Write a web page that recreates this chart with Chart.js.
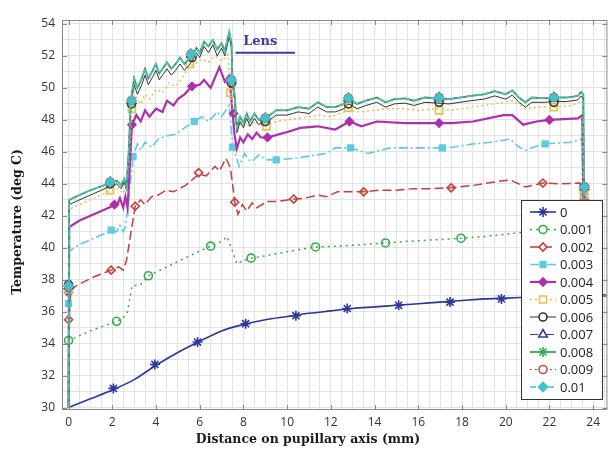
<!DOCTYPE html>
<html>
<head>
<meta charset="utf-8">
<script src="https://cdn.jsdelivr.net/npm/chart.js@4.4.0/dist/chart.umd.min.js"></script>
<style>
  html, body { margin: 0; padding: 0; background: #fff; }
  #wrap { width: 614px; height: 449px; position: relative; }
</style>
</head>
<body>
<div id="wrap"><canvas id="chart"></canvas></div>
<script>
// legend labels (one per curve)
const seriesLabels = ['0', '0.001', '0.002', '0.003', '0.004', '0.005', '0.006', '0.007', '0.008', '0.009', '0.01'];

// curves, [distance mm, temperature deg C]
const line0 = [[0,30],[1,30.55],[2,31.1],[3,31.75],[4,32.65],[5,33.45],[6,34.15],[7,34.8],[8,35.2],[9,35.5],[10,35.7],[11,35.9],[12,36.05],[13,36.2],[14,36.3],[15,36.4],[16,36.5],[17,36.6],[18,36.7],[19,36.8],[20,36.85],[22,36.95],[24.6,37.05]];
const marks0 = [[2.05,31.2],[3.95,32.7],[5.9,34.1],[8.1,35.25],[10.4,35.75],[12.75,36.2],[15.1,36.4],[17.45,36.6],[19.8,36.8]];

const line001 = [[0,30],[0.03,34.2],[0.5,34.5],[1.0,34.8],[1.6,35.1],[2.2,35.4],[2.5,35.6],[2.7,36.0],[2.9,37.6],[3.3,37.7],[3.65,38.25],[4.2,38.6],[4.8,39.0],[5.4,39.4],[6.0,39.8],[6.5,40.1],[7.0,40.4],[7.25,40.7],[7.5,39.8],[7.7,39.0],[8.0,39.2],[8.35,39.35],[9.0,39.5],[9.8,39.7],[10.6,39.9],[11.3,40.05],[12.3,40.1],[13.5,40.2],[14.5,40.3],[15.5,40.4],[16.8,40.5],[18.0,40.6],[19.0,40.7],[20.0,40.85],[21.0,41.0],[22.5,41.1],[23.5,41.2],[23.6,37.0],[24.6,37.0]];
const marks001 = [[0,34.2],[2.2,35.4],[3.65,38.25],[6.5,40.1],[8.35,39.35],[11.3,40.05],[14.5,40.3],[17.95,40.6]];

const line002 = [[0,30],[0.03,35.5],[0.1,37.4],[0.6,37.8],[1.2,38.2],[1.95,38.6],[2.3,38.8],[2.5,38.6],[2.65,39.2],[2.8,40.5],[3.05,42.6],[3.3,43.0],[3.5,42.7],[3.8,43.2],[4.1,43.3],[4.45,43.6],[4.8,43.5],[5.35,43.9],[5.95,44.6],[6.3,44.5],[6.7,45.1],[6.9,44.8],[7.2,45.6],[7.4,45.0],[7.55,43.5],[7.6,42.85],[7.75,42.1],[7.95,42.7],[8.15,42.3],[8.4,42.8],[8.6,42.5],[9.1,42.9],[9.6,42.9],[10.3,43.05],[10.8,43.1],[11.4,43.3],[11.8,43.2],[12.3,43.5],[12.8,43.5],[13.5,43.5],[14.2,43.6],[15,43.6],[15.8,43.7],[16.5,43.7],[17.5,43.75],[18.5,43.9],[19.4,44.1],[20.2,44.25],[20.9,43.8],[21.7,44.05],[22.5,44.0],[23.4,44.05],[23.6,37.0],[24.6,37.0]];
const marks002 = [[0,35.5],[1.95,38.6],[3.05,42.6],[5.95,44.7],[7.6,42.85],[10.3,43.05],[13.5,43.5],[17.5,43.75],[21.7,44.05]];

const line003 = [[0,30],[0.03,39.8],[0.5,40.2],[1.0,40.5],[1.5,40.8],[1.95,41.1],[2.2,41.0],[2.35,41.4],[2.5,41.0],[2.6,41.3],[2.75,43.0],[2.95,45.7],[3.15,46.5],[3.3,46.1],[3.5,46.6],[3.8,46.3],[4.1,46.8],[4.5,47.0],[4.9,47.1],[5.3,47.5],[5.75,47.9],[6.1,48.2],[6.4,47.9],[6.8,48.5],[7.0,48.2],[7.35,48.9],[7.5,46.4],[7.8,45.1],[8.05,45.9],[8.25,45.5],[8.4,45.4],[8.7,45.8],[9.1,45.5],[9.5,45.5],[10.4,45.6],[11.3,45.8],[11.8,45.9],[12.2,46.25],[12.9,46.25],[13.7,45.9],[14.7,46.25],[15.8,46.25],[17.1,46.25],[17.6,46.3],[18.5,46.5],[19.3,46.6],[20.2,46.8],[20.6,46.3],[20.9,46.1],[21.5,46.4],[21.8,46.5],[23.0,46.6],[23.5,46.8],[23.6,37.0],[24.6,37.0]];
const marks003 = [[0,36.5],[1.95,41.1],[2.95,45.7],[5.75,47.9],[7.5,46.3],[9.5,45.5],[12.9,46.25],[17.1,46.25],[21.8,46.5],[23.6,43.5]];

const line004 = [[0,30],[0.03,41.3],[0.5,41.7],[1.0,42.0],[1.5,42.3],[2.0,42.6],[2.2,42.6],[2.35,43.1],[2.5,42.5],[2.6,43.2],[2.7,42.5],[2.8,45.0],[2.9,47.7],[3.1,48.3],[3.3,47.9],[3.5,48.6],[3.7,48.2],[4.0,48.7],[4.3,48.5],[4.5,49.2],[4.8,48.9],[5.0,49.3],[5.3,49.6],[5.65,50.1],[6.0,50.2],[6.2,50.5],[6.5,50.0],[6.9,51.3],[7.15,50.4],[7.35,50.8],[7.5,48.5],[7.6,47.0],[7.7,46.2],[7.85,46.9],[8.0,46.6],[8.2,47.1],[8.4,46.8],[8.6,47.2],[8.8,46.9],[9.1,46.9],[9.9,47.2],[10.6,47.5],[11.4,47.6],[12.2,47.4],[12.85,47.9],[13.4,47.6],[14.1,47.9],[15.4,47.8],[16.95,47.8],[17.5,47.8],[18.5,47.9],[19.9,48.3],[20.3,48.3],[20.8,47.7],[21.4,47.9],[22.0,48.0],[23.3,48.1],[23.5,48.3],[23.6,37.0],[24.6,37.0]];
const marks004 = [[0,37.2],[2.1,42.7],[2.9,47.7],[5.65,50.1],[7.55,48.4],[9.1,46.9],[12.85,47.9],[16.95,47.8],[22.0,48.0],[23.6,43.0]];

const line005 = [[0,30],[0.03,42.4],[0.5,42.7],[1.0,43.0],[1.5,43.3],[1.9,43.55],[2.3,43.7],[2.5,43.4],[2.6,43.7],[2.75,45.0],[2.9,48.6],[3.1,49.4],[3.3,49.0],[3.5,49.6],[3.7,49.3],[4.0,49.9],[4.3,49.7],[4.6,50.3],[4.9,50.1],[5.2,50.6],[5.55,51.4],[5.8,51.5],[6.1,51.8],[6.4,51.6],[6.7,52.0],[7.0,51.7],[7.3,52.1],[7.4,49.8],[7.55,48.6],[7.7,47.3],[7.9,47.8],[8.2,47.6],[8.5,47.9],[9.0,47.6],[9.5,47.9],[10,48.0],[10.5,48.1],[11,48.2],[11.5,48.3],[12,48.2],[12.8,48.6],[13.3,48.5],[14,48.6],[14.5,48.7],[15.4,48.7],[16,48.6],[16.95,48.7],[17.5,48.6],[18.5,48.8],[19.5,49.0],[20.3,49.2],[20.9,48.7],[21.5,48.8],[22.2,48.8],[23,48.9],[23.5,49.2],[23.6,37.0],[24.6,37.0]];
const marks005 = [[0,37.4],[1.9,43.6],[2.9,48.7],[5.55,51.5],[7.4,49.7],[9.05,47.6],[12.8,48.75],[16.95,48.6],[22.2,48.8],[23.6,43.3]];

const line006 = [[0,30],[0.03,42.7],[0.5,43.0],[1.0,43.3],[1.5,43.6],[1.9,43.85],[2.2,44.0],[2.4,43.7],[2.55,44.1],[2.65,43.6],[2.75,45.5],[2.85,48.9],[3.0,50.2],[3.15,49.6],[3.35,50.2],[3.5,50.8],[3.65,50.2],[3.85,50.7],[4.0,51.1],[4.15,50.5],[4.35,50.9],[4.5,51.2],[4.7,50.8],[4.9,51.1],[5.1,51.5],[5.3,51.1],[5.5,51.4],[5.7,51.8],[5.85,52.2],[6.0,51.9],[6.2,52.6],[6.4,52.2],[6.6,52.7],[6.8,52.0],[7.0,52.5],[7.15,52.0],[7.35,53.2],[7.45,52.5],[7.5,50.3],[7.6,49.2],[7.7,47.2],[7.85,47.9],[8.0,47.5],[8.15,48.1],[8.3,47.6],[8.5,48.1],[8.7,47.7],[8.9,47.9],[9.2,48.0],[9.5,48.3],[10,48.3],[10.5,48.5],[11,48.4],[11.4,48.8],[11.8,48.5],[12.2,48.5],[12.6,48.7],[12.8,49.0],[13.2,48.7],[13.6,48.9],[14.1,49.1],[14.5,48.8],[14.9,49.0],[15.4,49.05],[15.8,48.9],[16.3,49.1],[16.9,49.05],[17.4,49.0],[17.9,49.1],[18.4,49.2],[19.0,49.3],[19.5,49.5],[20.0,49.3],[20.3,49.55],[20.6,49.1],[20.9,48.8],[21.2,49.1],[21.8,49.1],[22.2,49.15],[22.8,49.15],[23.3,49.25],[23.45,49.5],[23.55,49.3],[23.6,37.0],[24.6,37.0]];
const marks006 = [[0,37.7],[1.9,44.0],[2.88,49.0],[5.65,51.9],[7.45,50.3],[9.0,47.9],[12.8,49.0],[16.95,49.1],[22.2,49.1],[23.6,43.8]];

// 0.007 to 0.01 lie on top of each other in the picture
const lineTop = [[0,30],[0.03,43.0],[0.5,43.3],[1.0,43.6],[1.5,43.85],[1.9,44.05],[2.2,44.2],[2.4,43.9],[2.55,44.3],[2.65,43.8],[2.75,46.0],[2.85,49.2],[3.0,50.6],[3.15,50.0],[3.35,50.6],[3.5,51.2],[3.65,50.6],[3.85,51.1],[4.0,51.5],[4.15,50.9],[4.35,51.3],[4.5,51.6],[4.7,51.2],[4.9,51.5],[5.1,51.9],[5.3,51.5],[5.5,51.8],[5.7,52.1],[5.85,52.5],[6.0,52.2],[6.2,52.9],[6.4,52.6],[6.6,53.0],[6.8,52.4],[7.0,52.8],[7.15,52.3],[7.35,53.5],[7.45,52.8],[7.5,50.6],[7.6,49.5],[7.7,47.5],[7.85,48.2],[8.0,47.8],[8.15,48.4],[8.3,47.9],[8.5,48.4],[8.7,48.0],[8.9,48.2],[9.2,48.3],[9.5,48.6],[10,48.6],[10.5,48.8],[11,48.7],[11.4,49.1],[11.8,48.8],[12.2,48.8],[12.6,49.0],[12.8,49.3],[13.2,49.0],[13.6,49.2],[14.1,49.4],[14.5,49.1],[14.9,49.3],[15.4,49.35],[15.8,49.2],[16.3,49.4],[16.9,49.35],[17.4,49.3],[17.9,49.4],[18.4,49.5],[19.0,49.6],[19.5,49.8],[20.0,49.6],[20.3,49.85],[20.6,49.4],[20.9,49.1],[21.2,49.4],[21.8,49.35],[22.2,49.4],[22.8,49.4],[23.3,49.5],[23.45,49.75],[23.55,49.6],[23.6,37.0],[24.6,37.0]];
const marksTop = [[0,37.6],[1.9,44.1],[2.88,49.2],[5.6,52.1],[7.45,50.5],[9.0,48.1],[12.8,49.35],[16.95,49.4],[22.2,49.4],[23.6,43.8]];

// "Lens" marker line
const lensLine = [[7.64,52.2],[10.36,52.2]];
const lensLabel = 'Lens';
const lensLabelAt = [8.77, 52.9];

const lines = [line0, line001, line002, line003, line004, line005, line006, lineTop, lineTop, lineTop, lineTop];
const marks = [marks0, marks001, marks002, marks003, marks004, marks005, marks006, marksTop, marksTop, marksTop, marksTop];

// styles per curve
const styles = [
  { color: '#2b379b', width: 1.6, dash: [],           point: 'star',     r: 5,   fill: false },
  { color: '#34ad48', width: 1.5, dash: [2, 4],       point: 'circle',   r: 4,   fill: false },
  { color: '#c83c3c', width: 1.5, dash: [9, 4],       point: 'rectRot',  r: 4,   fill: false },
  { color: '#5fcbdc', width: 1.6, dash: [9, 3, 2, 3], point: 'rect',     r: 4,   fill: true  },
  { color: '#ad2fad', width: 2.2, dash: [],           point: 'rectRot',  r: 4,   fill: true  },
  { color: '#e4c24a', width: 1.5, dash: [2, 3],       point: 'rect',     r: 5,   fill: false },
  { color: '#333333', width: 1.0, dash: [],           point: 'circle',   r: 4,   fill: false },
  { color: '#2f3ea3', width: 1.0, dash: [8, 3, 2, 3], point: 'triangle', r: 5,   fill: false },
  { color: '#2fae4c', width: 1.8, dash: [],           point: 'star',     r: 5,   fill: false },
  { color: '#d04848', width: 1.2, dash: [2, 3],       point: 'circle',   r: 4,   fill: false },
  { color: '#3fc3cf', width: 1.6, dash: [6, 3],       point: 'rectRot',  r: 4.5, fill: true  }
];

const datasets = [];
lines.forEach((pts, i) => {
  const st = styles[i];
  datasets.push({
    label: seriesLabels[i],
    data: pts,
    borderColor: st.color,
    borderWidth: st.width,
    borderDash: st.dash,
    pointRadius: 0,
    tension: i === 0 ? 0.4 : 0,
    cubicInterpolationMode: i === 0 ? 'monotone' : 'default',
    order: -i * 2
  });
  datasets.push({
    label: seriesLabels[i] + ' markers',
    data: marks[i],
    showLine: false,
    pointStyle: st.point,
    pointRadius: st.r,
    pointBorderWidth: 1.6,
    pointBorderColor: st.color,
    pointBackgroundColor: st.fill ? st.color : 'rgba(255,255,255,0)',
    order: -i * 2 - 1
  });
});
datasets.push({
  label: 'lens',
  data: lensLine,
  borderColor: '#3b3ba3',
  borderWidth: 2,
  pointRadius: 0,
  order: -100
});

const tickFont = { family: '"Open Sans", sans-serif', size: 12 };

// frame, inner tick marks, lens label, axis titles and legend
const extras = {
  id: 'extras',
  afterDraw(chart) {
    const ctx = chart.ctx;
    const a = chart.chartArea;
    const xs = chart.scales.x, ys = chart.scales.y;
    ctx.save();

    ctx.strokeStyle = '#8a8a8a';
    ctx.lineWidth = 1;
    ctx.strokeRect(a.left + 0.5, a.top + 0.5, a.right - a.left - 1, a.bottom - a.top - 1);
    ctx.beginPath();
    for (let v = 0; v <= 24; v += 2) {
      const px = Math.round(xs.getPixelForValue(v)) + 0.5;
      ctx.moveTo(px, a.bottom); ctx.lineTo(px, a.bottom - 5);
      ctx.moveTo(px, a.top); ctx.lineTo(px, a.top + 5);
    }
    for (let v = 30; v <= 54; v += 2) {
      const py = Math.round(ys.getPixelForValue(v)) + 0.5;
      ctx.moveTo(a.left, py); ctx.lineTo(a.left + 5, py);
      ctx.moveTo(a.right, py); ctx.lineTo(a.right - 5, py);
    }
    ctx.stroke();

    ctx.fillStyle = '#3b3ba3';
    ctx.font = 'bold 13px "DejaVu Serif", serif';
    ctx.textAlign = 'center';
    ctx.textBaseline = 'middle';
    ctx.fillText(lensLabel, xs.getPixelForValue(lensLabelAt[0]), ys.getPixelForValue(lensLabelAt[1]));

    ctx.fillStyle = '#1a1a1a';
    ctx.font = 'bold 12.5px "DejaVu Serif", serif';
    ctx.fillText('Distance on pupillary axis (mm)', 308, 440);
    ctx.save();
    ctx.translate(18, 222);
    ctx.rotate(-Math.PI / 2);
    ctx.fillText('Temperature (deg C)', 0, 0);
    ctx.restore();

    // legend box
    const lx = 521, ly = 200, lw = 81, lh = 199;
    ctx.fillStyle = '#ffffff';
    ctx.fillRect(lx, ly, lw, lh);
    ctx.strokeStyle = '#333';
    ctx.lineWidth = 1;
    ctx.strokeRect(lx + 0.5, ly + 0.5, lw, lh);
    seriesLabels.forEach((lab, i) => {
      const st = styles[i];
      const y = ly + 12 + i * 17.5;
      ctx.strokeStyle = st.color;
      ctx.lineWidth = st.width;
      ctx.setLineDash(st.dash);
      ctx.beginPath();
      ctx.moveTo(lx + 9, y); ctx.lineTo(lx + 35, y);
      ctx.stroke();
      ctx.setLineDash([]);
      ctx.fillStyle = st.fill ? st.color : '#ffffff';
      ctx.lineWidth = 1.6;
      Chart.helpers.drawPoint(ctx, { pointStyle: st.point, radius: st.r, rotation: 0, borderWidth: 1.6 }, lx + 22, y);
      ctx.fillStyle = '#222';
      ctx.font = '13px "Open Sans", sans-serif';
      ctx.textAlign = 'left';
      ctx.fillText(lab, lx + 39, y + 1);
    });
    ctx.restore();
  }
};

new Chart(document.getElementById('chart'), {
  type: 'line',
  data: { datasets: datasets },
  options: {
    responsive: true,
    maintainAspectRatio: false,
    animation: false,
    layout: { padding: { top: 20, right: 3, left: 0, bottom: 0 } },
    plugins: { legend: { display: false }, tooltip: { enabled: false } },
    scales: {
      x: {
        type: 'linear',
        min: -0.3,
        max: 24.65,
        afterFit: s => { s.height = 39; },
        border: { display: false },
        grid: { color: '#e3e3e3', drawTicks: false },
        ticks: {
          stepSize: 0.5,
          includeBounds: false,
          autoSkip: false,
          maxRotation: 0,
          padding: 5,
          color: '#333',
          font: tickFont,
          callback: v => (Math.abs(v % 2) < 1e-9 ? String(v) : '')
        }
      },
      y: {
        min: 29.85,
        max: 54.25,
        afterFit: s => { s.width = 62; },
        border: { display: false },
        grid: { color: '#e3e3e3', drawTicks: false },
        ticks: {
          stepSize: 1,
          includeBounds: false,
          autoSkip: false,
          padding: 7,
          color: '#333',
          font: tickFont,
          callback: v => (Math.abs(v % 2) < 1e-9 ? String(v) : '')
        }
      }
    }
  },
  plugins: [extras]
});
</script>
</body>
</html>
